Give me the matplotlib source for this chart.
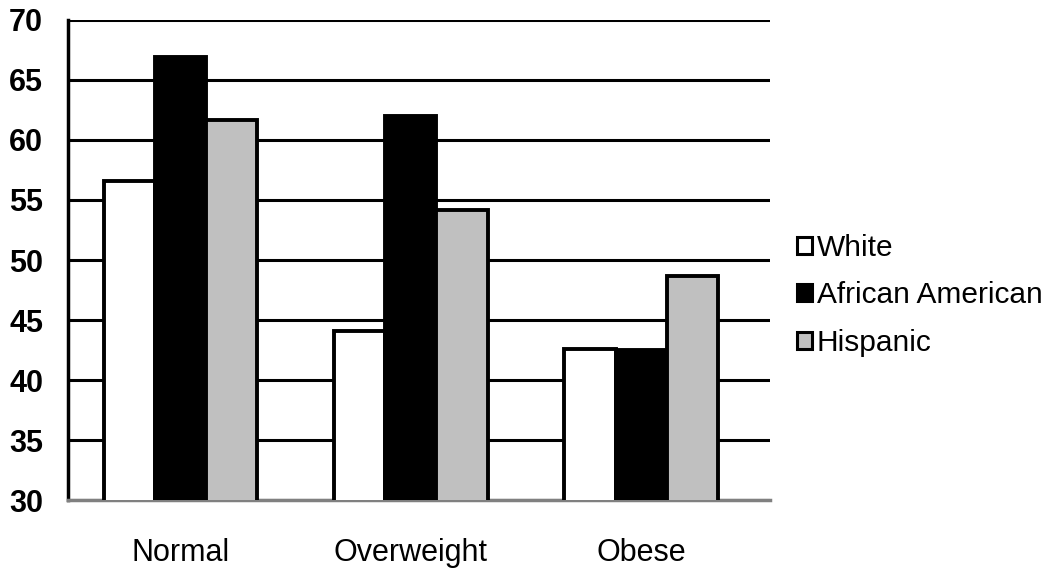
import numpy as np
import matplotlib.pyplot as plt
from matplotlib.patches import Patch

categories = ["Normal", "Overweight", "Obese"]
groups = ["White", "African American", "Hispanic"]
white = [56.6, 44.1, 42.6]
african_american = [66.9, 62.0, 42.5]
hispanic = [61.7, 54.2, 48.7]
colors = ["#ffffff", "#000000", "#c0c0c0"]

plt.rcParams['font.family'] = ['Liberation Sans', 'DejaVu Sans']

fig = plt.figure(figsize=(10.5, 5.68), dpi=100)
ax = fig.add_axes([0.0648, 0.1197, 0.6685, 0.8451])

x = np.arange(len(categories))
width = 0.222
series = [white, african_american, hispanic]
for i, (vals, col) in enumerate(zip(series, colors)):
    ax.bar(x + (i - 1) * width, vals, width, bottom=0, color=col,
           edgecolor="black", linewidth=2.8, zorder=3)

ax.set_ylim(30, 70)
ax.set_xlim(-0.49, 2.56)
ax.set_yticks(np.arange(30, 71, 5))
ax.yaxis.grid(True, color="black", linewidth=2.2, zorder=0)
ax.set_axisbelow(True)
ax.set_xticks(x)
ax.set_xticklabels(categories, fontsize=22)
for lab in ax.get_yticklabels():
    lab.set_fontsize(22)
    lab.set_fontweight("bold")
ax.tick_params(axis="both", length=0)
ax.tick_params(axis="x", pad=27)
ax.tick_params(axis="y", pad=18)

for s in ["top", "right"]:
    ax.spines[s].set_visible(False)
ax.spines["left"].set_linewidth(2.5)
ax.spines["left"].set_color("black")
ax.spines["bottom"].set_linewidth(2.5)
ax.spines["bottom"].set_color("#808080")

handles = [Patch(facecolor=c, edgecolor="black", linewidth=2.2) for c in colors]
fig.legend(handles, groups, loc="center left", bbox_to_anchor=(0.745, 0.48),
           frameon=False, fontsize=21.5, handlelength=0.5, handleheight=0.5,
           handletextpad=0.15, labelspacing=0.65, borderpad=0)

fig.savefig("out.png", dpi=100)
